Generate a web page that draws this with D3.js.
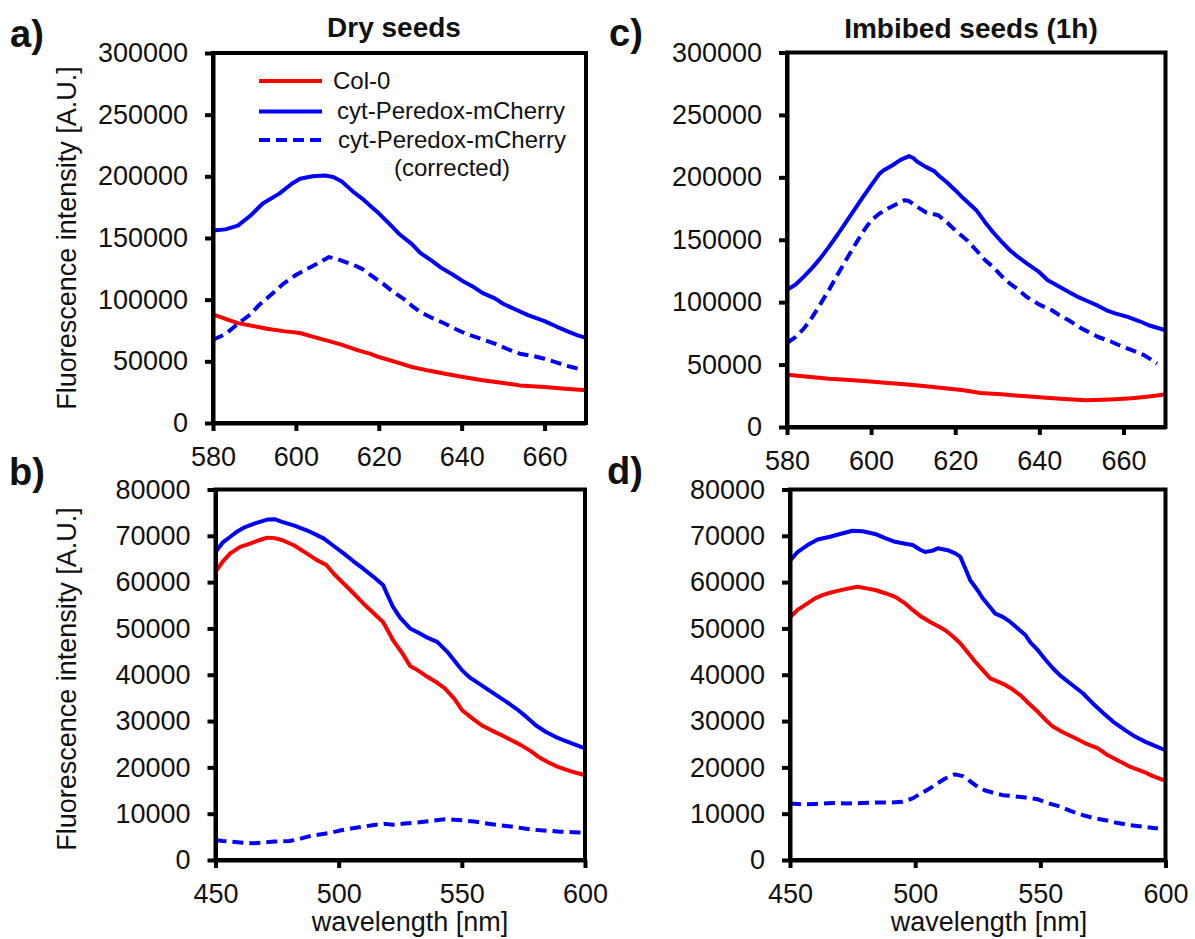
<!DOCTYPE html>
<html><head><meta charset="utf-8">
<script src="https://cdn.jsdelivr.net/npm/d3@7"></script>
<style>
body{margin:0;background:#fff}
svg{display:block}
text{font-family:"Liberation Sans",Arial,Helvetica,sans-serif;fill:#111}
</style>
</head><body>
<svg id="chart" width="1195" height="939"></svg>
<script>
// ---------- tick values / labels ----------
const xTicksRed = [580, 600, 620, 640, 660];
const xTicksCyan = [450, 500, 550, 600];
const yTicksTop = [0, 50000, 100000, 150000, 200000, 250000, 300000];
const yTicksBottom = [0, 10000, 20000, 30000, 40000, 50000, 60000, 70000, 80000];
const panelTitles = ["Dry seeds", "Imbibed seeds (1h)"];
const panelLetters = ["a)", "b)", "c)", "d)"];
const legendLabels = ["Col-0", "cyt-Peredox-mCherry", "cyt-Peredox-mCherry", "(corrected)"];
const yAxisTitle = "Fluorescence intensity [A.U.]";
const xAxisTitle = "wavelength [nm]";

// ---------- panel a: dry seeds, mCherry emission ----------
const aCol0 = [[580,88000],[583,84500],[586,81000],[590,78500],[593,76400],[597,74500],[601,73000],[604,70000],[608,66400],[611,63500],[615,58900],[618,56000],[620,53500],[624,49500],[628,45400],[632,42500],[636,40000],[640,37500],[645,34600],[650,32500],[654,30500],[660,29200],[665,27800],[670,26500]];
const aPeredox = [[580,156000],[583,157000],[586,160000],[589,168000],[592,178000],[596,186000],[599,194000],[601,198000],[604,200000],[607,200700],[609,199500],[611,196000],[614,187000],[616,182000],[618,176000],[620,170000],[623,160000],[625,153000],[628,145000],[630,138000],[633,131000],[635,126000],[638,120000],[640,115600],[643,110000],[645,105500],[648,101000],[650,96700],[653,92000],[656,87500],[658,85000],[660,82600],[663,78000],[666,73700],[668,71000],[670,69000]];
const aCorrected = [[580,67500],[583,72000],[586,80500],[589,88000],[591,95300],[594,104000],[597,113000],[600,120000],[602,123700],[605,129000],[608,134500],[610,133000],[612,130400],[614,128000],[616,125000],[618,120000],[621,113000],[623,107500],[626,100700],[628,95000],[630,90000],[633,85000],[636,80500],[638,77000],[641,72400],[644,69000],[648,64300],[651,60000],[654,56200],[657,54500],[660,52100],[663,49000],[665,46700],[667,45000],[669,43200]];

// ---------- panel b: dry seeds, Peredox emission ----------
const bCol0 = [[450,62200],[453,64500],[456,66200],[460,67600],[464,68300],[468,69100],[471,69600],[474,69500],[477,69100],[482,67900],[487,66200],[491,64800],[495,63700],[498,61800],[502,59700],[506,57600],[510,55400],[514,53400],[518,51400],[520,49500],[522,47500],[526,44500],[529,41900],[532,41000],[535,39900],[539,38600],[543,37100],[547,34800],[550,32400],[554,30700],[558,29100],[562,28000],[566,27000],[570,25900],[574,24800],[578,23500],[581,22300],[585,21100],[589,20100],[594,19200],[600,18300]];
const bPeredox = [[450,66500],[453,68600],[456,69800],[459,71000],[462,71900],[466,72700],[471,73500],[474,73600],[477,73000],[482,72200],[487,71200],[491,70200],[494,69400],[498,67800],[502,66200],[506,64500],[510,62900],[514,61200],[518,59400],[520,57000],[522,54700],[525,52300],[529,50000],[533,48900],[536,48000],[540,47100],[544,45000],[547,43000],[550,41000],[553,39500],[557,38100],[560,37000],[564,35600],[568,34200],[572,32700],[576,31000],[580,29100],[584,27700],[588,26600],[592,25700],[596,24900],[600,24100]];
const bCorrected = [[450,4300],[453,4100],[456,4000],[460,3800],[465,3600],[470,3800],[474,4000],[480,4100],[484,4500],[487,5000],[491,5400],[496,5800],[500,6300],[505,6800],[510,7200],[515,7600],[519,7800],[522,7600],[527,7900],[532,8100],[537,8400],[543,8800],[547,8700],[550,8600],[555,8300],[560,7900],[564,7600],[569,7300],[573,7000],[578,6600],[582,6400],[586,6300],[590,6100],[595,6000],[600,5900]];

// ---------- panel c: imbibed seeds, mCherry emission ----------
const cCol0 = [[580,41900],[585,40300],[590,38700],[595,37600],[599,36600],[604,35300],[608,34200],[613,32600],[617,31300],[622,29500],[626,27300],[631,26200],[636,24800],[640,23800],[645,22700],[648,22000],[651,21400],[655,21800],[658,22200],[662,23000],[665,24000],[668,25200],[670,26200]];
const cPeredox = [[580,110000],[582,114000],[584,120500],[586,127500],[588,135500],[590,144500],[592,154000],[594,164000],[596,174000],[598,184000],[600,193500],[602,203000],[603,205700],[605,209500],[607,214000],[609,217000],[610,215500],[611,212500],[613,208400],[615,205000],[616,201700],[618,196000],[620,189700],[622,183000],[625,173700],[627,164500],[629,156000],[631,148500],[633,141600],[635,136000],[637,131000],[640,124000],[642,117600],[645,112000],[647,108200],[649,104500],[651,101500],[654,97000],[656,93500],[658,91000],[661,88200],[664,84500],[666,81500],[668,79500],[670,77500]];
const cCorrected = [[580,67300],[582,72000],[584,78800],[586,88000],[588,98800],[590,110000],[592,122000],[594,133500],[596,145000],[598,156000],[600,165500],[602,171000],[604,175000],[606,178500],[608,181700],[609,181000],[611,176300],[613,172000],[616,169600],[618,164000],[620,157600],[623,149000],[625,141600],[627,134000],[629,128200],[631,121000],[633,114900],[635,110000],[637,104200],[640,98000],[643,93500],[645,89000],[647,85500],[650,79000],[654,72100],[657,68500],[659,65500],[662,61500],[665,57400],[668,50800]];

// ---------- panel d: imbibed seeds, Peredox emission ----------
const dCol0 = [[450,52400],[453,54000],[457,55400],[460,56500],[463,57200],[466,57700],[469,58100],[473,58600],[477,59000],[480,58700],[484,58300],[488,57600],[492,56800],[496,55400],[499,54000],[502,52700],[506,51400],[509,50500],[512,49600],[515,48300],[518,46800],[521,44800],[524,42800],[527,41000],[530,39200],[533,38500],[536,37800],[539,36800],[542,35600],[545,34000],[549,32000],[552,30300],[555,28800],[559,27600],[564,26300],[568,25200],[573,24100],[577,22600],[582,21200],[586,20100],[591,19100],[595,18100],[600,17100]];
const dPeredox = [[450,64600],[453,66500],[457,68000],[461,69200],[466,69800],[470,70400],[475,71100],[479,71000],[484,70400],[488,69500],[492,68700],[496,68300],[499,68000],[502,67000],[504,66500],[507,66800],[509,67300],[513,66900],[516,66200],[518,65500],[520,63000],[522,60400],[525,58200],[527,56500],[530,54500],[532,53200],[535,52500],[538,51400],[541,50000],[544,48600],[546,47000],[549,45300],[552,43300],[555,41400],[558,39800],[562,38100],[567,36000],[571,33800],[575,31800],[579,29900],[584,28000],[588,26600],[592,25500],[596,24600],[600,23700]];
const dCorrected = [[450,12200],[455,12000],[460,12100],[467,12300],[473,12200],[479,12300],[484,12400],[490,12400],[495,12600],[499,13300],[502,14300],[506,15500],[509,16600],[512,17600],[516,18500],[519,18100],[522,17000],[525,15800],[528,15000],[532,14400],[535,14000],[539,13800],[544,13500],[549,13100],[553,12300],[558,11500],[562,10600],[567,9700],[571,9100],[576,8600],[580,8100],[585,7600],[591,7200],[597,6800]];

// ---------- styles ----------
const RED = "#ff0000", BLUE = "#0000ff";
const svg = d3.select("#chart");
const FONT = 27;

const panels = [
  {id:"a", box:[213, 586, 53, 423], xd:[580,670], yd:[0,300000], xt:xTicksRed, yt:yTicksTop, s:[aCol0,aPeredox,aCorrected], letter:[10,47], title:{t:panelTitles[0], x:394, y:37}, ylab:238, legend:true},
  {id:"b", box:[215.5, 585, 489.5, 860], xd:[450,600], yd:[0,80000], xt:xTicksCyan, yt:yTicksBottom, s:[bCol0,bPeredox,bCorrected], letter:[9,485], ylab:679, xlab:410},
  {id:"c", box:[787, 1165.5, 52.5, 427], xd:[580,670], yd:[0,300000], xt:xTicksRed, yt:yTicksTop, s:[cCol0,cPeredox,cCorrected], letter:[609,46], title:{t:panelTitles[1], x:971, y:38}},
  {id:"d", box:[790, 1165.5, 489.5, 860], xd:[450,600], yd:[0,80000], xt:xTicksCyan, yt:yTicksBottom, s:[dCol0,dPeredox,dCorrected], letter:[607,484], xlab:989}
];

const seriesStyle = [
  {color:RED, dash:null},
  {color:BLUE, dash:null},
  {color:BLUE, dash:"11,6"}
];

panels.forEach((p, i) => {
  const [x0, x1, y0, y1] = p.box;
  const x = d3.scaleLinear().domain(p.xd).range([x0, x1]);
  const y = d3.scaleLinear().domain(p.yd).range([y1, y0]);
  const g = svg.append("g");

  // data lines
  const line = d3.line().x(d => x(d[0])).y(d => y(d[1]));
  p.s.forEach((data, k) => {
    g.append("path").datum(data)
      .attr("d", line)
      .attr("fill", "none")
      .attr("stroke", seriesStyle[k].color)
      .attr("stroke-width", 4)
      .attr("stroke-linejoin", "round")
      .attr("stroke-dasharray", seriesStyle[k].dash);
  });

  // frame
  g.append("rect").attr("x", x0).attr("y", y0).attr("width", x1 - x0).attr("height", y1 - y0)
    .attr("fill", "none").attr("stroke", "#000").attr("stroke-width", 4);

  // axes
  const yAxis = d3.axisLeft(y).tickValues(p.yt).tickFormat(d3.format("d"))
    .tickSize(8).tickSizeOuter(0).tickPadding(17);
  const ya = g.append("g").attr("transform", `translate(${x0},0)`).call(yAxis);
  const xAxis = d3.axisBottom(x).tickValues(p.xt).tickFormat(d3.format("d"))
    .tickSize(8).tickSizeOuter(0).tickPadding(16);
  const xa = g.append("g").attr("transform", `translate(0,${y1})`).call(xAxis);
  [ya, xa].forEach(a => {
    a.select(".domain").attr("stroke", "#000").attr("stroke-width", 4);
    a.selectAll(".tick line").attr("stroke", "#000").attr("stroke-width", 4);
    a.selectAll(".tick text").attr("font-size", FONT)
      .style("font-family", '"Liberation Sans", Arial, sans-serif').attr("fill", "#111");
  });

  // panel letter
  svg.append("text").attr("x", p.letter[0]).attr("y", p.letter[1])
    .attr("font-size", 38).attr("font-weight", "bold").text(panelLetters[i]);

  if (p.title) {
    svg.append("text").attr("x", p.title.x).attr("y", p.title.y)
      .attr("text-anchor", "middle").attr("font-size", 28).attr("font-weight", "bold")
      .text(p.title.t);
  }
  if (p.ylab) {
    svg.append("text").attr("transform", `translate(76,${p.ylab}) rotate(-90)`)
      .attr("text-anchor", "middle").attr("font-size", FONT).text(yAxisTitle);
  }
  if (p.xlab) {
    svg.append("text").attr("x", p.xlab).attr("y", 931)
      .attr("text-anchor", "middle").attr("font-size", FONT).text(xAxisTitle);
  }

  if (p.legend) {
    const rows = [
      {ly:81, tx:333, ty:89, k:0},
      {ly:111.5, tx:337, ty:119, k:1},
      {ly:140, tx:338, ty:148, k:2}
    ];
    rows.forEach(r => {
      svg.append("line").attr("x1", 259).attr("x2", 322).attr("y1", r.ly).attr("y2", r.ly)
        .attr("stroke", seriesStyle[r.k].color).attr("stroke-width", 4)
        .attr("stroke-dasharray", seriesStyle[r.k].dash);
      svg.append("text").attr("x", r.tx).attr("y", r.ty).attr("font-size", 24)
        .text(legendLabels[r.k]);
    });
    svg.append("text").attr("x", 394).attr("y", 176).attr("font-size", 24).text(legendLabels[3]);
  }
});
</script>
</body></html>
